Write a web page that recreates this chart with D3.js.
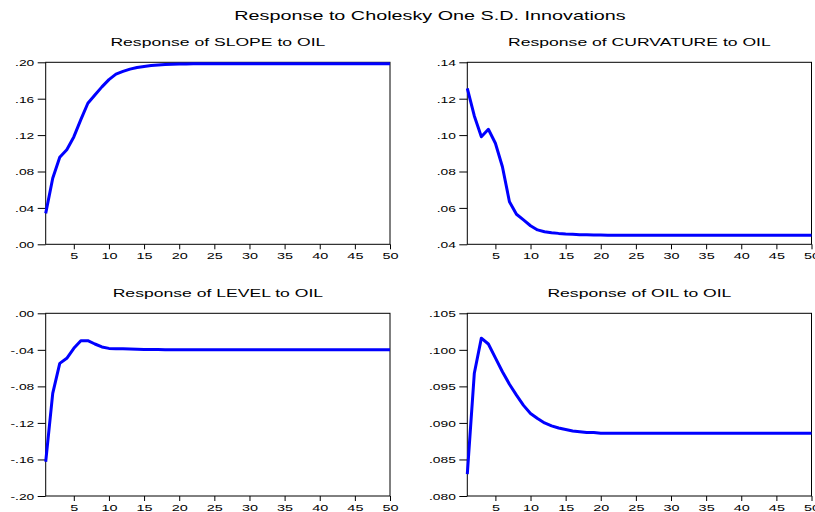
<!DOCTYPE html>
<html>
<head>
<meta charset="utf-8">
<script src="https://cdn.jsdelivr.net/npm/d3@7/dist/d3.min.js"></script>
<style>
  html, body { margin: 0; padding: 0; background: #fff; }
  svg { display: block; }
  text { font-family: Arial, "Liberation Sans", sans-serif; fill: #000; }
</style>
</head>
<body>
<svg id="chart" width="815" height="512"></svg>
<script>
// Impulse-response horizons 1..50
const periods = d3.range(1, 51);
const xTicks = [5, 10, 15, 20, 25, 30, 35, 40, 45, 50];

const slope = [
  0.0340, 0.0725, 0.0956, 0.1040, 0.1180, 0.1370, 0.1550, 0.1640, 0.1730, 0.1810,
  0.1870, 0.1900, 0.1925, 0.1943, 0.1955, 0.1964, 0.1970, 0.1975, 0.1978, 0.1980,
  0.1982, 0.1983, 0.1984, 0.1984, 0.1985, 0.1985, 0.1985, 0.1985, 0.1985, 0.1985,
  0.1985, 0.1985, 0.1985, 0.1985, 0.1985, 0.1985, 0.1985, 0.1985, 0.1985, 0.1985,
  0.1985, 0.1985, 0.1985, 0.1985, 0.1985, 0.1985, 0.1985, 0.1985, 0.1985, 0.1985
];
const curvature = [
  0.1257, 0.1105, 0.0991, 0.1032, 0.0955, 0.0826, 0.0634, 0.0565, 0.0534, 0.0502,
  0.0479, 0.0469, 0.0464, 0.0460, 0.0457, 0.0455, 0.0453, 0.0452, 0.0451, 0.0451,
  0.0450, 0.0450, 0.0450, 0.0450, 0.0450, 0.0450, 0.0450, 0.0450, 0.0450, 0.0450,
  0.0450, 0.0450, 0.0450, 0.0450, 0.0450, 0.0450, 0.0450, 0.0450, 0.0450, 0.0450,
  0.0450, 0.0450, 0.0450, 0.0450, 0.0450, 0.0450, 0.0450, 0.0450, 0.0450, 0.0450
];
const level = [
  -0.1625, -0.0876, -0.0548, -0.0493, -0.0383, -0.0300, -0.0300, -0.0336, -0.0368, -0.0384,
  -0.0387, -0.0389, -0.0391, -0.0393, -0.0395, -0.0396, -0.0397, -0.0398, -0.0399, -0.0399,
  -0.0400, -0.0400, -0.0400, -0.0400, -0.0400, -0.0400, -0.0400, -0.0400, -0.0400, -0.0400,
  -0.0400, -0.0400, -0.0400, -0.0400, -0.0400, -0.0400, -0.0400, -0.0400, -0.0400, -0.0400,
  -0.0400, -0.0400, -0.0400, -0.0400, -0.0400, -0.0400, -0.0400, -0.0400, -0.0400, -0.0400
];
const oil = [
  0.0830, 0.0968, 0.1016, 0.1008, 0.0989, 0.0970, 0.0953, 0.0938, 0.0924, 0.0913,
  0.0906, 0.0900, 0.0896, 0.0893, 0.0891, 0.0889, 0.0888, 0.0887, 0.0887, 0.0886,
  0.0886, 0.0886, 0.0886, 0.0886, 0.0886, 0.0886, 0.0886, 0.0886, 0.0886, 0.0886,
  0.0886, 0.0886, 0.0886, 0.0886, 0.0886, 0.0886, 0.0886, 0.0886, 0.0886, 0.0886,
  0.0886, 0.0886, 0.0886, 0.0886, 0.0886, 0.0886, 0.0886, 0.0886, 0.0886, 0.0886
];

const slopeTicks = [0.00, 0.04, 0.08, 0.12, 0.16, 0.20];
const curvatureTicks = [0.04, 0.06, 0.08, 0.10, 0.12, 0.14];
const levelTicks = [-0.20, -0.16, -0.12, -0.08, -0.04, 0.00];
const oilTicks = [0.080, 0.085, 0.090, 0.095, 0.100, 0.105];

const mainTitle = "Response to Cholesky One S.D. Innovations";
const panelTitles = [
  "Response of SLOPE to OIL",
  "Response of CURVATURE to OIL",
  "Response of LEVEL to OIL",
  "Response of OIL to OIL"
];

// Glyphs are drawn wide relative to their height
const SX = 1.57;

// Panel frames
const panels = [
  { title: panelTitles[0], values: slope,     ticks: slopeTicks,     dec: 2, left: 45.7,  right: 390,   top: 62.3,  bottom: 244.3 },
  { title: panelTitles[1], values: curvature, ticks: curvatureTicks, dec: 2, left: 467.3, right: 811.5, top: 62.3,  bottom: 244.3 },
  { title: panelTitles[2], values: level,     ticks: levelTicks,     dec: 2, left: 45.7,  right: 390,   top: 313.3, bottom: 496 },
  { title: panelTitles[3], values: oil,       ticks: oilTicks,       dec: 3, left: 467.3, right: 811.5, top: 313.3, bottom: 496 }
];

const svg = d3.select("#chart");

function wideText(g, x, y, str, size, anchor) {
  return g.append("text")
    .attr("transform", `translate(${x},${y}) scale(${SX},1)`)
    .attr("text-anchor", anchor || "middle")
    .style("font-size", size + "px")
    .text(str);
}

// ".20", "-.04", ".105" style labels (no leading zero, ASCII hyphen)
function fmt(dec) {
  const f = d3.format("." + dec + "f");
  return v => {
    let s = f(Math.abs(v) < 1e-12 ? 0 : v).replace("\u2212", "-");
    return s.replace(/^(-?)0\./, "$1.");
  };
}

wideText(svg, 430, 20, mainTitle, 12.6);

panels.forEach(p => {
  const g = svg.append("g");
  const x = d3.scaleLinear().domain([1, 50]).range([p.left, p.right]);
  const y = d3.scaleLinear()
    .domain([p.ticks[0], p.ticks[p.ticks.length - 1]])
    .range([p.bottom, p.top]);

  wideText(g, (p.left + p.right) / 2, p.top - 16.6, p.title, 11.2);

  // y axis
  const ya = g.append("g")
    .attr("transform", `translate(${p.left},0)`)
    .call(d3.axisLeft(y).tickValues(p.ticks).tickSize(8).tickPadding(3).tickFormat(fmt(p.dec)));
  ya.select(".domain").remove();
  ya.selectAll(".tick line").attr("stroke", "#000");
  ya.selectAll(".tick text")
    .attr("x", null).attr("dy", null)
    .attr("transform", `translate(-11.4,3.3) scale(${SX},1)`)
    .style("font-size", "8.8px")
    .style("font-family", 'Arial, "Liberation Sans", sans-serif');

  // x axis
  const xa = g.append("g")
    .attr("transform", `translate(0,${p.bottom})`)
    .call(d3.axisBottom(x).tickValues(xTicks).tickSize(5).tickPadding(3).tickFormat(d3.format("d")));
  xa.select(".domain").remove();
  xa.selectAll(".tick line").attr("stroke", "#000");
  xa.selectAll(".tick text")
    .attr("y", null).attr("dy", null)
    .attr("transform", `translate(0,14.8) scale(${SX},1)`)
    .style("font-size", "9.2px")
    .style("font-family", 'Arial, "Liberation Sans", sans-serif');

  // frame
  g.append("rect")
    .attr("x", p.left).attr("y", p.top)
    .attr("width", p.right - p.left).attr("height", p.bottom - p.top)
    .attr("fill", "none").attr("stroke", "#000").attr("stroke-width", 1);

  // response line
  const line = d3.line().x((d, i) => x(periods[i])).y(d => y(d));
  g.append("path")
    .datum(p.values)
    .attr("d", line)
    .attr("fill", "none")
    .attr("stroke", "#0000ff")
    .attr("stroke-width", 3)
    .attr("stroke-linejoin", "round");
});
</script>
</body>
</html>
